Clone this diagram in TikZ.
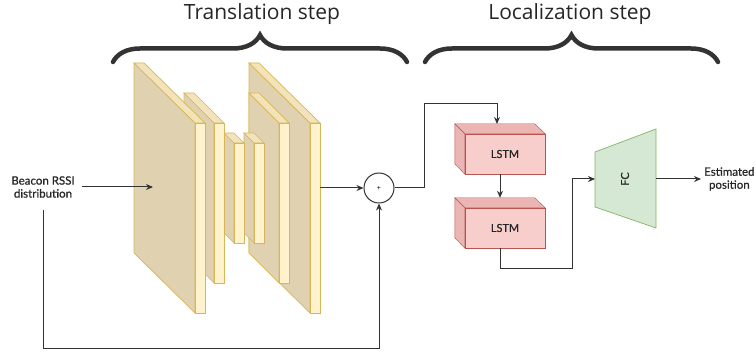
\documentclass[tikz,border=0pt]{standalone}
\usepackage{fontspec}
\setmainfont{Lato}
\newfontfamily\lblfont[FakeBold=0.6]{Lato}
\newfontfamily\titlefont{Open Sans}
\usetikzlibrary{arrows.meta,decorations.pathreplacing,calc}

\definecolor{slabface}{HTML}{E0D2B0}
\definecolor{slabfront}{HTML}{FFF2CC}
\definecolor{slabtop}{HTML}{F2E3BA}
\definecolor{slabline}{HTML}{D6B656}
\definecolor{lstmfront}{HTML}{F8CECC}
\definecolor{lstmside}{HTML}{EAB5B3}
\definecolor{lstmline}{HTML}{B85450}
\definecolor{fcfill}{HTML}{D5E8D4}
\definecolor{fcline}{HTML}{82B366}
\definecolor{bracecol}{HTML}{333333}

\tikzset{
  arr/.style={draw=black!80, line width=1pt, -{Stealth[length=7pt,width=6pt]}},
  lbl/.style={font=\lblfont\fontsize{11.5}{13}\selectfont, align=center, text=black!85},
  steptitle/.style={font=\titlefont\fontsize{21}{24}\selectfont, text=black!85},
  stepbrace/.style={draw=bracecol, line width=4.5pt, line cap=round,
    decorate, decoration={brace, amplitude=27pt}},
  lstmbox/.style={draw=lstmline, fill=lstmfront, minimum width=80pt,
    minimum height=40pt, inner sep=0pt, font=\lblfont\fontsize{11}{12}\selectfont,
    text=black!85},
}

\begin{document}
\begin{tikzpicture}[x=1pt, y=-1pt]
    \useasboundingbox (0,0) rectangle (756,355);

    % Step titles and braces
    \node[steptitle] (ttrans) at (262,14) {Translation step};
    \node[steptitle] (tloc) at (570,14) {Localization step};
    \draw[stepbrace] (113,62) -- (407,62);
    \draw[stepbrace] (425,62) -- (718,62);

    % Translation slabs, back to front: back x / top y / front x / depth / height
    \foreach \bx/\by/\fx/\d/\h in {249/63/310/60/190, 249/93/279/30/160,
        244/133/254/10/100, 224/133/234/10/100, 184/93/214/30/160, 134/63/195/60/190} {
        \filldraw[draw=slabline, fill=slabface, line width=0.7pt]
            (\bx,\by) -- (\fx,\by+\d) -- (\fx,\by+\d+\h) -- (\bx,\by+\h) -- cycle;
        \filldraw[draw=slabline, fill=slabtop, line width=0.7pt]
            (\bx,\by) -- (\bx+10,\by) -- (\fx+10,\by+\d) -- (\fx,\by+\d) -- cycle;
        \filldraw[draw=slabline, fill=slabfront, line width=0.7pt]
            (\fx,\by+\d) rectangle (\fx+10,\by+\d+\h);
    }
    \coordinate (encin) at (153,187);
    \coordinate (decout) at (320,188);

    % Input and skip connection
    \node[lbl, inner sep=7pt] (input) at (43,187) {Beacon RSSI\\distribution};
    \draw[arr] (input.east |- encin) -- (encin);
    \node[draw=black!80, line width=1pt, circle, minimum size=30pt, inner sep=0pt,
        font=\fontsize{7}{8}\selectfont] (sum) at (379,188) {+};
    \draw[arr] (decout) -- (sum.west);
    \coordinate (skipin) at (43,210);
    \draw[arr] (skipin) -- (43,349) -| (sum.south);

    % LSTM cells
    \foreach \n/\y in {lstm1/154, lstm2/228} {
        \node[lstmbox] (\n) at (505,\y) {LSTM};
        \filldraw[draw=lstmline, fill=lstmside]
            (\n.north west) -- ++(-10,-10) -- ++(80,0) -- (\n.north east) -- cycle;
        \filldraw[draw=lstmline, fill=lstmside]
            (\n.north west) -- ++(-10,-10) -- ++(0,40) -- (\n.south west) -- cycle;
    }
    \coordinate (lstmin) at (497,124);
    \draw[arr] (sum.east) -| (424,104) -| (lstmin);
    \draw[arr] ([xshift=-5pt]lstm1.south) -- ([xshift=-5pt,yshift=10pt]lstm2.north);

    % Fully connected head
    \filldraw[draw=fcline, fill=fcfill, line width=0.7pt]
        (595,152) -- (656,129) -- (656,228) -- (595,207) -- cycle;
    \node[rotate=90, font=\lblfont\fontsize{11}{12}\selectfont, text=black!85] (fc) at (625,179) {FC};
    \coordinate (fcin) at (595,179);
    \coordinate (fcout) at (656,179);
    \draw[arr] ([xshift=-5pt]lstm2.south) |- (572,269) |- (fcin);

    % Output
    \node[lbl, anchor=west, inner sep=3pt] (output) at (701,179) {Estimated\\position};
    \draw[arr] (fcout) -- (output.west);
\end{tikzpicture}
\end{document}
